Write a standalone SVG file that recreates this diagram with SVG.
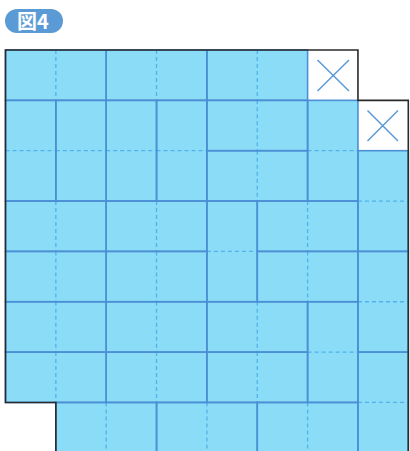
<svg xmlns="http://www.w3.org/2000/svg" width="410" height="451" viewBox="0 0 410 451">
<defs>
<style>
.bg{fill:#8adcf7;stroke:none}
.dom{fill:none;stroke:#4b8fd5;stroke-width:1.6}
.mid{stroke:#52b2e9;stroke-width:1.3;stroke-dasharray:4 3;fill:none}
.cut{fill:#ffffff;stroke:none}
.x{stroke:#5b9ad6;stroke-width:1.5;fill:none}
.edge{fill:none;stroke:#2a2a2a;stroke-width:1.6}
.lbl{font-family:"Noto Sans CJK JP","Noto Sans",sans-serif;font-weight:bold;font-size:20px;fill:#ffffff}
</style>
</defs>
<rect width="410" height="451" fill="#ffffff"/>
<g id="label">
<rect x="5" y="9" width="58" height="24" rx="12" fill="#5b9bd5"/>
<text class="lbl" x="33" y="28.5" text-anchor="middle">図4</text>
</g>
<g id="board">
<path class="bg" d="M55.85,452 V402.45 H5.5 V50 H357.95 V100.35 H408.3 V452 Z"/>
<rect class="cut" x="307.6" y="50" width="50.35" height="50.35"/>
<rect class="cut" x="357.95" y="100.35" width="50.35" height="50.35"/>
</g>
<g id="dashes">
<!-- horizontal dominoes midlines -->
<path class="mid" d="M55.85,50V100.35 M156.55,50V100.35 M257.25,50V100.35
M257.25,100.35V150.7 M257.25,150.7V201.05
M55.85,201.05V251.4 M156.55,201.05V251.4 M307.6,201.05V251.4
M55.85,251.4V301.75 M156.55,251.4V301.75 M307.6,251.4V301.75
M55.85,301.75V352.1 M156.55,301.75V352.1 M257.25,301.75V352.1
M55.85,352.1V402.45 M156.55,352.1V402.45 M257.25,352.1V402.45
M106.2,402.45V452.8 M206.9,402.45V452.8 M307.6,402.45V452.8"/>
<!-- vertical dominoes midlines -->
<path class="mid" d="M5.5,150.7H55.85 M55.85,150.7H106.2 M106.2,150.7H156.55 M156.55,150.7H206.9 M307.6,150.7H357.95
M357.95,201.05H408.3 M206.9,251.4H257.25 M357.95,301.75H408.3 M307.6,352.1H357.95 M357.95,402.45H408.3"/>
</g>
<g id="dominoes">
<g id="h00"><rect class="dom" x="5.5" y="50" width="100.7" height="50.35"/></g>
<g id="h02"><rect class="dom" x="106.2" y="50" width="100.7" height="50.35"/></g>
<g id="h04"><rect class="dom" x="206.9" y="50" width="100.7" height="50.35"/></g>
<g id="v10"><rect class="dom" x="5.5" y="100.35" width="50.35" height="100.7"/></g>
<g id="v11"><rect class="dom" x="55.85" y="100.35" width="50.35" height="100.7"/></g>
<g id="v12"><rect class="dom" x="106.2" y="100.35" width="50.35" height="100.7"/></g>
<g id="v13"><rect class="dom" x="156.55" y="100.35" width="50.35" height="100.7"/></g>
<g id="h14"><rect class="dom" x="206.9" y="100.35" width="100.7" height="50.35"/></g>
<g id="v16"><rect class="dom" x="307.6" y="100.35" width="50.35" height="100.7"/></g>
<g id="h24"><rect class="dom" x="206.9" y="150.7" width="100.7" height="50.35"/></g>
<g id="v27"><rect class="dom" x="357.95" y="150.7" width="50.35" height="100.7"/></g>
<g id="h30"><rect class="dom" x="5.5" y="201.05" width="100.7" height="50.35"/></g>
<g id="h32"><rect class="dom" x="106.2" y="201.05" width="100.7" height="50.35"/></g>
<g id="v34"><rect class="dom" x="206.9" y="201.05" width="50.35" height="100.7"/></g>
<g id="h35"><rect class="dom" x="257.25" y="201.05" width="100.7" height="50.35"/></g>
<g id="h40"><rect class="dom" x="5.5" y="251.4" width="100.7" height="50.35"/></g>
<g id="h42"><rect class="dom" x="106.2" y="251.4" width="100.7" height="50.35"/></g>
<g id="h45"><rect class="dom" x="257.25" y="251.4" width="100.7" height="50.35"/></g>
<g id="v47"><rect class="dom" x="357.95" y="251.4" width="50.35" height="100.7"/></g>
<g id="h50"><rect class="dom" x="5.5" y="301.75" width="100.7" height="50.35"/></g>
<g id="h52"><rect class="dom" x="106.2" y="301.75" width="100.7" height="50.35"/></g>
<g id="h54"><rect class="dom" x="206.9" y="301.75" width="100.7" height="50.35"/></g>
<g id="v56"><rect class="dom" x="307.6" y="301.75" width="50.35" height="100.7"/></g>
<g id="h60"><rect class="dom" x="5.5" y="352.1" width="100.7" height="50.35"/></g>
<g id="h62"><rect class="dom" x="106.2" y="352.1" width="100.7" height="50.35"/></g>
<g id="h64"><rect class="dom" x="206.9" y="352.1" width="100.7" height="50.35"/></g>
<g id="v67"><rect class="dom" x="357.95" y="352.1" width="50.35" height="100.7"/></g>
<g id="h71"><rect class="dom" x="55.85" y="402.45" width="100.7" height="50.35"/></g>
<g id="h73"><rect class="dom" x="156.55" y="402.45" width="100.7" height="50.35"/></g>
<g id="h75"><rect class="dom" x="257.25" y="402.45" width="100.7" height="50.35"/></g>
</g>
<g id="removed">
<path class="x" d="M317.5,60 L349,91 M349,60 L317.5,91"/>
<path class="x" d="M367.5,110.5 L398,141 M398,110.5 L367.5,141"/>
</g>
<g id="outline">
<path class="edge" d="M55.85,452 V402.45 H5.5 V50 H357.95 V100.35 H408.3 V452"/>
</g>
</svg>
